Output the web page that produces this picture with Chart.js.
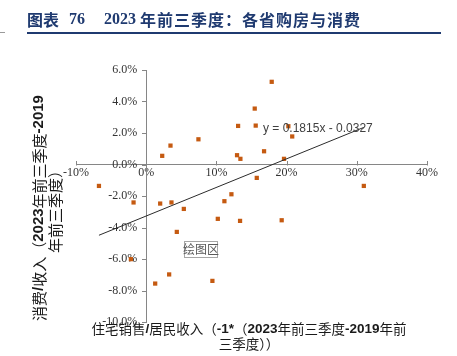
<!DOCTYPE html>
<html><head><meta charset="utf-8">
<script src="https://cdn.jsdelivr.net/npm/chart.js@4.4.1/dist/chart.umd.min.js"></script>
<style>
html,body{margin:0;padding:0;background:#fff;width:457px;height:356px;overflow:hidden}
#wrap{position:relative;width:457px;height:356px}
canvas{position:absolute;left:0;top:0}
.t{position:absolute;top:11px;line-height:16px;white-space:nowrap;color:#1F3A70;font-weight:bold;font-size:16px}
.cjk{font-family:"Noto Sans CJK SC",sans-serif}
.lat{font-family:"Liberation Serif",serif}
#rule{position:absolute;left:27px;top:32px;width:414px;height:2px;background:#1F3A70}
#stub{position:absolute;left:0;top:32px;width:5px;height:1px;background:#9a9a9a}
</style></head>
<body><div id="wrap">
<canvas id="c" width="457" height="356"></canvas>
<span class="t cjk" style="left:27px">图表</span>
<span class="t lat" style="left:69px">76</span>
<span class="t lat" style="left:104px">2023</span>
<span class="t cjk" style="left:140px;letter-spacing:1px">年前三季度：各省购房与消费</span>
<div id="rule"></div><div id="stub"></div>
</div>
<script>
// x: 住宅销售/居民收入 change (percent), y: 消费/收入 change (percent)
const housingSalesPct = [-6.73, 2.28, 3.46, 7.44, 13.09, 12.94, 13.42, 15.46, 15.60, 15.75,
  12.14, 17.88, 20.25, 20.80, 16.79, 19.63, 31.00, -1.80, 1.99, 3.60,
  5.36, 4.36, 10.20, 11.14, 13.37, -2.18, 1.28, 3.27, 9.43, 19.30];
const consumptionPct = [-1.36, 0.55, 1.20, 1.60, 2.45, 0.59, 0.36, 3.55, 2.47, -0.85,
  -1.89, 5.25, 2.43, 1.78, 0.84, 0.36, -1.36, -2.41, -2.48, -2.41,
  -2.82, -4.28, -3.45, -2.33, -3.58, -6.01, -7.56, -6.98, -7.39, -3.54];
const trendSlope = 0.1815;
const trendIntercept = -0.0327;
const xTickValues = [-0.1, 0, 0.1, 0.2, 0.3, 0.4];
const yTickValues = [-0.1, -0.08, -0.06, -0.04, -0.02, 0, 0.02, 0.04, 0.06];
const xTitleLines = [
  [["住宅销售","c"],["/","b"],["居民收入（","c"],["-1*","b"],["（","c"],["2023","b"],["年前三季度","c"],["-2019","b"],["年前","c"]],
  [["三季度））","c"]]
];
const yTitleLines = [
  [["消费","c"],["/","b"],["收入（","c"],["2023","b"],["年前三季度","c"],["-2019","b"]],
  [["年前三季度）","c"]]
];
const plotLabel = "绘图区";

const pts = housingSalesPct.map((v, i) => ({x: v / 100, y: consumptionPct[i] / 100}));
const xMin = Math.min(...housingSalesPct) / 100, xMax = Math.max(...housingSalesPct) / 100;
const trendPts = [xMin, xMax].map(x => ({x, y: trendSlope * x + trendIntercept}));

function drawRuns(ctx, runs, cx, cy, size) {
  const fonts = {c: size + 'px "Noto Sans CJK SC"', b: 'bold ' + size + 'px "Liberation Sans"'};
  let total = 0;
  runs.forEach(r => { ctx.font = fonts[r[1]]; total += ctx.measureText(r[0]).width; });
  let x = cx - total / 2;
  ctx.textAlign = 'left'; ctx.textBaseline = 'middle';
  runs.forEach(r => { ctx.font = fonts[r[1]]; ctx.fillText(r[0], x, cy); x += ctx.measureText(r[0]).width; });
}

const extras = {
  id: 'extras',
  afterDraw(chart) {
    const ctx = chart.ctx, xs = chart.scales.x, ys = chart.scales.y;
    const x0 = xs.getPixelForValue(0) , y0 = ys.getPixelForValue(0);
    ctx.save();
    ctx.strokeStyle = '#868686'; ctx.lineWidth = 1;
    ctx.beginPath();
    xTickValues.forEach(v => { const p = Math.round(xs.getPixelForValue(v)) + 0.5; ctx.moveTo(p, Math.round(y0) + 0.5); ctx.lineTo(p, Math.round(y0) - 4); });
    yTickValues.forEach(v => { const p = Math.round(ys.getPixelForValue(v)) + 0.5; ctx.moveTo(Math.round(x0) - 4, p); ctx.lineTo(Math.round(x0) + 0.5, p); });
    ctx.stroke();
    // trendline equation
    ctx.fillStyle = '#404040';
    ctx.font = '12px "Liberation Sans Narrow", "Liberation Sans"';
    ctx.textAlign = 'left'; ctx.textBaseline = 'middle';
    ctx.fillText('y = ' + trendSlope + 'x - ' + Math.abs(trendIntercept), 263, 129);
    // axis titles
    ctx.fillStyle = '#1a1a1a';
    drawRuns(ctx, xTitleLines[0], 249, 329, 13.5);
    drawRuns(ctx, xTitleLines[1], 249, 344, 13.5);
    ctx.save(); ctx.translate(39, 208); ctx.rotate(-Math.PI / 2);
    drawRuns(ctx, yTitleLines[0], 0, 0, 15);
    ctx.restore();
    ctx.save(); ctx.translate(55, 208); ctx.rotate(-Math.PI / 2);
    drawRuns(ctx, yTitleLines[1], 0, 0, 15);
    ctx.restore();
    // plot-area hover label
    ctx.fillStyle = '#ffffff'; ctx.strokeStyle = '#a6a6a6';
    ctx.fillRect(184, 241, 33, 16); ctx.strokeRect(184.5, 241.5, 33, 16);
    ctx.fillStyle = '#595959'; ctx.font = '12px "Noto Sans CJK SC"';
    ctx.textAlign = 'center'; ctx.textBaseline = 'middle';
    ctx.fillText(plotLabel, 201, 249.5);
    ctx.restore();
  }
};

new Chart(document.getElementById('c'), {
  type: 'scatter',
  data: {
    datasets: [
      {data: pts, pointStyle: 'rect', pointRadius: 3, pointBackgroundColor: '#C55A11', pointBorderWidth: 0, borderWidth: 0, order: 1},
      {data: trendPts, showLine: true, borderColor: '#2b2b2b', borderWidth: 1, pointRadius: 0, fill: false, order: 0}
    ]
  },
  options: {
    responsive: false, animation: false,
    layout: {padding: {left: 76, right: 30, top: 70, bottom: 34}},
    plugins: {legend: {display: false}, tooltip: {enabled: false}},
    scales: {
      x: {
        type: 'linear', min: -0.1, max: 0.4, position: {y: 0},
        afterBuildTicks: s => { s.ticks = xTickValues.map(v => ({value: v})); },
        grid: {display: false, drawTicks: false},
        border: {display: true, color: '#868686', width: 1},
        ticks: {padding: 1, color: '#333', font: {family: 'Liberation Serif', size: 12},
          callback: v => Math.round(v * 100) + '%'}
      },
      y: {
        type: 'linear', min: -0.1, max: 0.06, position: {x: 0},
        afterBuildTicks: s => { s.ticks = yTickValues.map(v => ({value: v})); },
        grid: {display: false, drawTicks: false},
        border: {display: true, color: '#868686', width: 1},
        ticks: {padding: 0, color: '#333', font: {family: 'Liberation Serif', size: 12},
          callback: v => (v * 100).toFixed(1) + '%\u2002 '}
      }
    }
  },
  plugins: [extras]
});
</script>
</body></html>
